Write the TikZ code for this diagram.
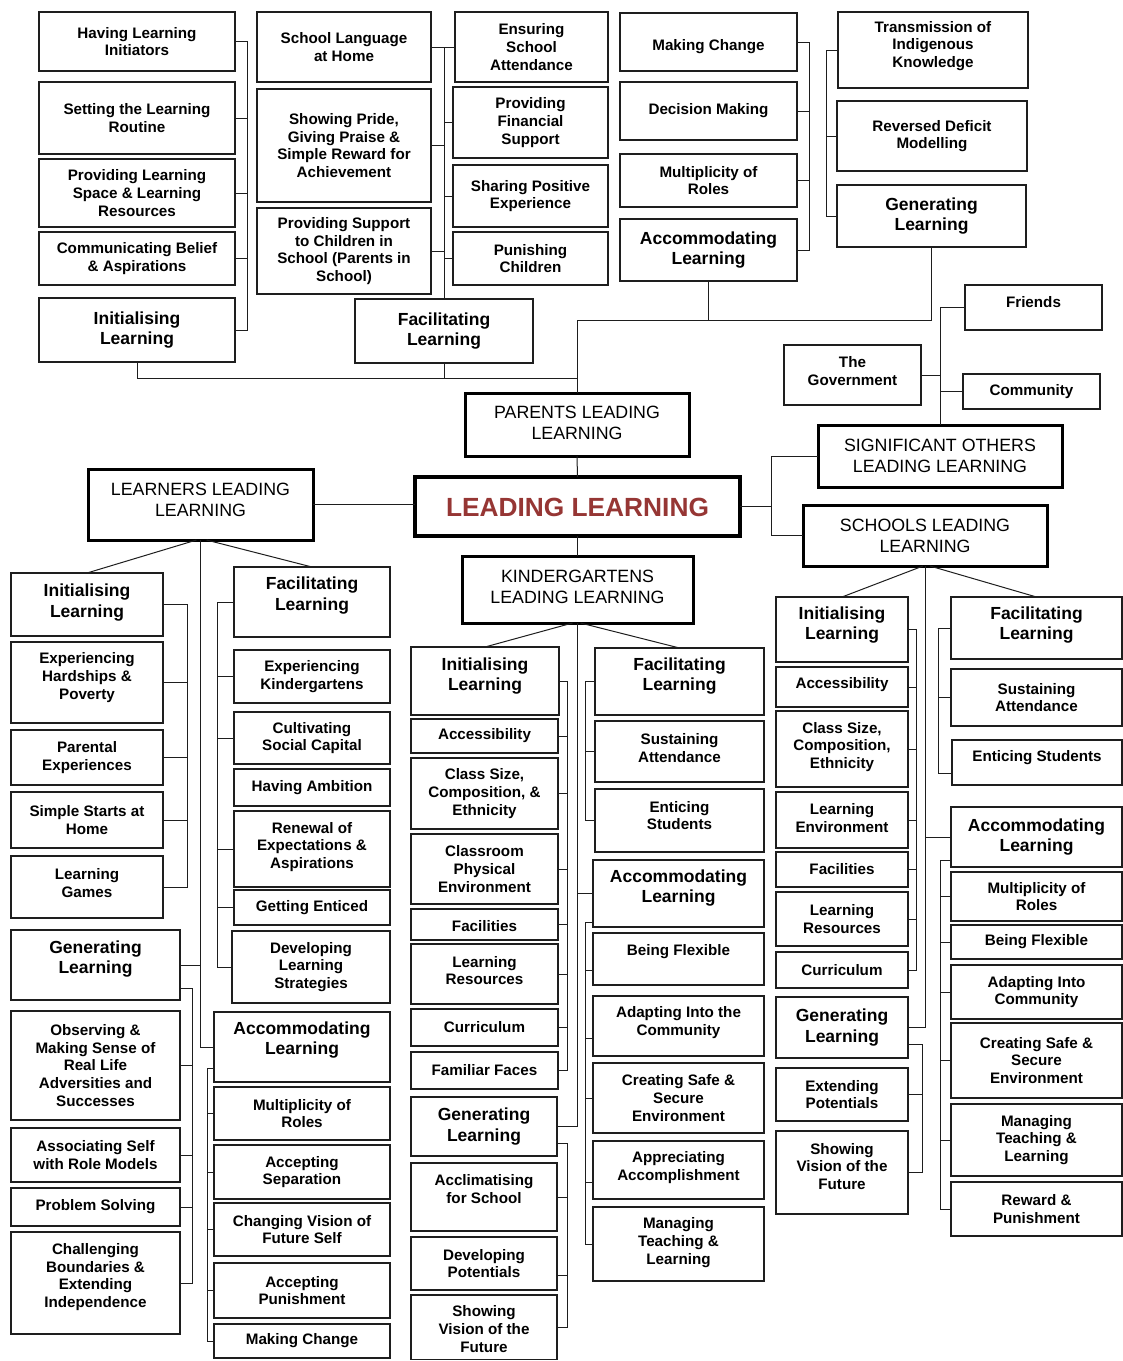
\documentclass[tikz,border=0pt]{standalone}
\usepackage{fontspec}
\setmainfont{Liberation Sans}
\usetikzlibrary{calc}
\definecolor{leadred}{RGB}{150,54,52}
\definecolor{edge}{RGB}{30,30,30}
\tikzset{
  box/.style={draw=edge, line width=1.2pt, inner sep=0pt, outer sep=0pt},
  headbox/.style={draw=black, line width=3pt, inner sep=0pt, outer sep=0pt},
  lbl/.style={align=center, inner sep=0pt, font=\fontsize{15.2}{17.8}\selectfont\bfseries},
  big/.style={font=\fontsize{17.5}{20.8}\selectfont\bfseries},
  head/.style={font=\fontsize{17.8}{20.8}\selectfont},
  conn/.style={draw=edge, line width=1pt},
}
% box with its label: [label options]{name}{x1}{y1}{x2}{y2}{text}
\newcommand\bx[7][]{%
  \node[box, minimum width={#5-#3}, minimum height={#6-#4}] (#2) at ({(#3+#5)/2},{(#4+#6)/2}) {};
  \node[lbl,#1] (#2t) at (#2.center) {#7};}
\newcommand\hx[7][]{%
  \node[headbox, minimum width={#5-#3}, minimum height={#6-#4}] (#2) at ({(#3+#5)/2},{(#4+#6)/2}) {};
  \node[lbl,head,#1] (#2t) at (#2.center) {#7};}
% bus: {bus x coordinate}{first point}{last point}{further points}
\newcommand\bus[4]{%
  \draw[conn] (#2) -- (#2 -| #1) -- (#3 -| #1) -- (#3);
  \foreach \p in {#4} {\draw[conn] (\p) -- (\p -| #1);}}
\begin{document}
\begin{tikzpicture}[x=1pt,y=-1pt]
\fill[white] (0,0) rectangle (1123,1361);
\useasboundingbox (0,0) rectangle (1123,1361);

% ---------- parents ----------
\bx{p1}{39}{12}{235}{71}{Having Learning\\Initiators}
\bx{p2}{39}{82}{235}{154}{Setting the Learning\\Routine}
\bx{p3}{39}{159}{235}{227}{Providing Learning\\Space \& Learning\\Resources}
\bx{p4}{39}{232}{235}{285}{Communicating Belief\\\& Aspirations}
\bx[big]{p5}{39}{298}{235}{362}{Initialising\\Learning}
\bx{q1}{257}{12}{431}{82}{School Language\\at Home}
\bx{q2}{257}{89}{431}{202}{Showing Pride,\\Giving Praise \&\\Simple Reward for\\Achievement}
\bx{q3}{257}{208}{431}{294}{Providing Support\\to Children in\\School (Parents in\\School)}
\bx[big]{pf}{355}{299}{533}{363}{Facilitating\\Learning}
\bx{r1}{455}{12}{608}{82}{Ensuring\\School\\Attendance}
\bx{r2}{453}{87}{608}{158}{Providing\\Financial\\Support}
\bx{r3}{453}{165}{608}{227}{Sharing Positive\\Experience}
\bx{r4}{453}{232}{608}{285}{Punishing\\Children}
\bx[yshift=-5pt]{m1}{620}{13}{797}{71}{Making Change}
\bx{m2}{620}{82}{797}{140}{Decision Making}
\bx{m3}{620}{154}{797}{207}{Multiplicity of\\Roles}
\bx[big]{m4}{620}{219}{797}{281}{Accommodating\\Learning}
\bx[yshift=4pt]{t1}{838}{12}{1028}{88}{Transmission of\\Indigenous\\Knowledge}
\bx{t2}{837}{101}{1027}{171}{Reversed Deficit\\Modelling}
\bx[big]{t3}{837}{185}{1026}{247}{Generating\\Learning}

% ---------- significant others ----------
\bx[yshift=5pt]{fr}{965}{285}{1102}{330}{Friends}
\bx[yshift=4pt]{gov}{784}{345}{921}{405}{The\\Government}
\bx{com}{963}{374}{1100}{409}{Community}

% ---------- headers ----------
\hx[yshift=1.5pt]{par}{465}{393}{689}{456}{PARENTS LEADING\\LEARNING}
\hx{so}{818}{425}{1062}{487}{SIGNIFICANT OTHERS\\LEADING LEARNING}
\hx{sch}{803}{505}{1047}{566}{SCHOOLS LEADING\\LEARNING}
\hx[yshift=5pt]{lrn}{88}{469}{313}{540}{LEARNERS LEADING\\LEARNING}
\hx[yshift=3pt]{kdg}{462}{556}{693}{623}{KINDERGARTENS\\LEADING LEARNING}
\node[headbox, line width=4.5pt, minimum width=325, minimum height=59] (ll) at (577.5,506.5) {};
\node[inner sep=0pt, font=\fontsize{26.3}{30}\selectfont\bfseries, text=leadred] (llt) at (577.5,507) {LEADING LEARNING};

% ---------- learners ----------
\bx[big,yshift=2pt]{li}{11}{573}{163}{636}{Initialising\\Learning}
\bx[yshift=5pt]{lhp}{11}{642}{163}{723}{Experiencing\\Hardships \&\\Poverty}
\bx{lpe}{11}{730}{163}{785}{Parental\\Experiences}
\bx{lss}{11}{792}{163}{848}{Simple Starts at\\Home}
\bx[yshift=4pt]{llg}{11}{856}{163}{918}{Learning\\Games}
\bx[big,yshift=6.5pt]{lf}{234}{567}{390}{637}{Facilitating\\Learning}
\bx{lek}{234}{650}{390}{703}{Experiencing\\Kindergartens}
\bx{lcs}{234}{712}{390}{764}{Cultivating\\Social Capital}
\bx{lha}{234}{769}{390}{806}{Having Ambition}
\bx[yshift=2pt]{lre}{234}{811}{390}{887}{Renewal of\\Expectations \&\\Aspirations}
\bx{lge}{234}{890}{390}{925}{Getting Enticed}
\bx{lds}{232}{931}{390}{1003}{Developing\\Learning\\Strategies}
\bx[big,yshift=6pt]{lgn}{11}{930}{180}{1000}{Generating\\Learning}
\bx{los}{11}{1011}{180}{1120}{Observing \&\\Making Sense of\\Real Life\\Adversities and\\Successes}
\bx{las}{11}{1128}{180}{1182}{Associating Self\\with Role Models}
\bx{lps}{11}{1188}{180}{1226}{Problem Solving}
\bx[yshift=6pt]{lcb}{11}{1232}{180}{1334}{Challenging\\Boundaries \&\\Extending\\Independence}
\bx[big,yshift=7pt]{la}{214}{1012}{390}{1082}{Accommodating\\Learning}
\bx{lmr}{214}{1087}{390}{1140}{Multiplicity of\\Roles}
\bx{lse}{214}{1145}{390}{1199}{Accepting\\Separation}
\bx{lcv}{214}{1203}{390}{1256}{Changing Vision of\\Future Self}
\bx{lap}{214}{1263}{390}{1318}{Accepting\\Punishment}
\bx{lmc}{214}{1324}{390}{1358}{Making Change}

% ---------- kindergartens ----------
\bx[big,yshift=5pt]{ki}{411}{647}{559}{715}{Initialising\\Learning}
\bx{kas}{411}{719}{558}{753}{Accessibility}
\bx{kcs}{411}{758}{558}{829}{Class Size,\\Composition, \&\\Ethnicity}
\bx{kcp}{411}{834}{558}{904}{Classroom\\Physical\\Environment}
\bx[yshift=-2pt]{kfa}{411}{909}{558}{940}{Facilities}
\bx[yshift=3.5pt]{klr}{411}{944}{558}{1004}{Learning\\Resources}
\bx{kcu}{411}{1009}{558}{1046}{Curriculum}
\bx{kff}{411}{1052}{558}{1089}{Familiar Faces}
\bx[big]{kgn}{411}{1097}{557}{1156}{Generating\\Learning}
\bx[yshift=8pt]{kac}{411}{1163}{557}{1231}{Acclimatising\\for School}
\bx{kdp}{411}{1237}{557}{1290}{Developing\\Potentials}
\bx[yshift=-2pt]{ksv}{411}{1295}{557}{1359.5}{Showing\\Vision of the\\Future}
\bx[big,yshift=5.5pt]{kf}{595}{648}{764}{715}{Facilitating\\Learning}
\bx[yshift=3.5pt]{ksu}{595}{721}{764}{782}{Sustaining\\Attendance}
\bx[yshift=5pt]{ken}{595}{789}{764}{852}{Enticing\\Students}
\bx[big,yshift=5.5pt]{ka}{593}{860}{764}{927}{Accommodating\\Learning}
\bx[yshift=7pt]{kbf}{593}{933}{764}{985}{Being Flexible}
\bx[yshift=3.5pt]{kad}{593}{996}{764}{1056}{Adapting Into the\\Community}
\bx{ksa}{593}{1063}{764}{1133}{Creating Safe \&\\Secure\\Environment}
\bx[yshift=2.5pt]{kap}{593}{1141}{764}{1199}{Appreciating\\Accomplishment}
\bx[yshift=1.5pt]{kmt}{593}{1207}{764}{1281}{Managing\\Teaching \&\\Learning}

% ---------- schools ----------
\bx[big,yshift=4.5pt]{si}{776}{597}{908}{662}{Initialising\\Learning}
\bx[yshift=2pt]{sas}{776}{667}{908}{707}{Accessibility}
\bx[yshift=2pt]{scs}{776}{711}{908}{787}{Class Size,\\Composition,\\Ethnicity}
\bx[yshift=2pt]{sle}{776}{792}{908}{848}{Learning\\Environment}
\bx{sfa}{776}{852}{908}{887}{Facilities}
\bx{slr}{776}{892}{908}{946}{Learning\\Resources}
\bx{scu}{776}{952}{908}{988}{Curriculum}
\bx[big]{sgn}{776}{997}{908}{1058}{Generating\\Learning}
\bx{sep}{776}{1068}{908}{1121}{Extending\\Potentials}
\bx[yshift=6pt]{ssv}{776}{1131}{908}{1214}{Showing\\Vision of the\\Future}
\bx[big,yshift=3pt]{sf}{951}{597}{1122}{659}{Facilitating\\Learning}
\bx{ssu}{951}{669}{1122}{726}{Sustaining\\Attendance}
\bx[yshift=4.5pt]{sen}{952}{740}{1122}{785}{Enticing Students}
\bx[big]{sa}{951}{807}{1122}{867}{Accommodating\\Learning}
\bx{smr}{951}{872}{1122}{921}{Multiplicity of\\Roles}
\bx{sbf}{951}{925}{1122}{959}{Being Flexible}
\bx{sad}{951}{965}{1122}{1019}{Adapting Into\\Community}
\bx{ssa}{951}{1023}{1122}{1098}{Creating Safe \&\\Secure\\Environment}
\bx{smt}{951}{1104}{1122}{1176}{Managing\\Teaching \&\\Learning}
\bx{srp}{951}{1182}{1122}{1236}{Reward \&\\Punishment}

% ---------- bus positions and off-centre ticks ----------
\coordinate (bPI) at (247,0);
\coordinate (bPA) at (809,0);
\coordinate (bPG) at (826,0);
\coordinate (rb)  at (771,0);
\coordinate (pj)  at (577,320);
\coordinate (pk)  at (577,378);
\coordinate (bLI) at (187,0);
\coordinate (bLF) at (217,0);
\coordinate (bLG) at (192,0);
\coordinate (bLA) at (207,0);
\coordinate (bKI) at (567,0);
\coordinate (bKF) at (585,0);
\coordinate (bSI) at (916,0);
\coordinate (bSF) at (938,0);
\coordinate (bSA) at (940,0);
\coordinate (bSG) at (922,0);
\coordinate (lgt) at ([yshift=-23pt]lgn.east);
\coordinate (lat) at ([yshift=-21pt]la.west);
\coordinate (kat) at ([yshift=-28.5pt]ka.west);
\coordinate (kbft) at ([yshift=-11pt]kbf.west);
\coordinate (kadt) at ([yshift=-12pt]kad.west);
\coordinate (kapt) at ([yshift=-12pt]kap.west);
\coordinate (kgnt) at ([yshift=-16.5pt]kgn.east);
\coordinate (kdpt) at ([yshift=-11.5pt]kdp.east);
\coordinate (sent) at ([yshift=-10.5pt]sen.west);
\coordinate (sat) at ([yshift=-23pt]sa.west);
\coordinate (sgnt) at ([yshift=-16.5pt]sgn.east);

% ---------- parents connectors ----------
\bus{bPI}{p1.east}{p5.east}{p2.east,p3.east,p4.east}
\draw[conn] (q1.east -| pf.north) -- (pf.north);
\foreach \n in {q1,q2,q3} {\draw[conn] (\n.east) -- (\n.east -| pf.north);}
\foreach \n in {r1,r2,r3,r4} {\draw[conn] (\n.west) -- (\n.west -| pf.north);}
\bus{bPA}{m1.east}{m4.east}{m2.east,m3.east}
\bus{bPG}{t1.west}{t3.west}{t2.west}
\draw[conn] (m4.south) |- (pj) -- (par.north);
\draw[conn] (t3.south) |- (pj);
\draw[conn] (p5.south) |- (pk);
\draw[conn] (pf.south) -- (pf.south |- pk);

% ---------- central connectors ----------
\draw[conn] (par.south) -- (ll.north);
\draw[conn] (lrn.east) -- (lrn.east -| ll.west);
\draw[conn] (ll.east) -- (ll.east -| rb);
\draw[conn] (so.west) -- (so.west -| rb) -- (sch.west -| rb) -- (sch.west);
\draw[conn] (ll.south) -- (kdg.north);
\draw[conn] (so.north) -- (so.north |- fr.west) -- (fr.west);
\draw[conn] (gov.east) -- (gov.east -| so.north);
\draw[conn] (com.west) -- (com.west -| so.north);

% ---------- learners connectors ----------
\draw[conn] ([xshift=-4pt]lrn.south) -- (li.north);
\draw[conn] ([xshift=6pt]lrn.south) -- (lf.north);
\draw[conn] (lrn.south) |- (la.west);
\draw[conn] (lgn.east) -- (lgn.east -| lrn.south);
\bus{bLI}{li.east}{llg.east}{lhp.east,lpe.east,lss.east}
\bus{bLF}{lf.west}{lds.west}{lek.west,lcs.west,lre.west,lge.west}
\bus{bLG}{lgt}{lcb.east}{los.east,las.east,lps.east}
\bus{bLA}{lat}{lmc.west}{lmr.west,lse.west,lcv.west,lap.west}

% ---------- kindergartens connectors ----------
\draw[conn] ([xshift=-5pt]kdg.south) -- (ki.north);
\draw[conn] ([xshift=3pt]kdg.south) -- (kf.north);
\draw[conn] (kdg.south) |- (kgn.east);
\draw[conn] (ka.west) -- (ka.west -| kdg.south);
\bus{bKI}{ki.east}{kff.east}{kas.east,kcs.east,kcp.east,kfa.east,klr.east,kcu.east}
\bus{bKF}{kf.west}{ken.west}{ksu.west}
\bus{bKF}{kat}{kmt.west}{kbft,kadt,ksa.west,kapt}
\bus{bKI}{kgnt}{ksv.east}{kac.east,kdpt}

% ---------- schools connectors ----------
\draw[conn] ([xshift=-2pt]sch.south) -- (si.north);
\draw[conn] ([xshift=5pt]sch.south) -- (sf.north);
\draw[conn] (sch.south) |- (sgn.east);
\draw[conn] (sa.west) -- (sa.west -| sch.south);
\bus{bSI}{si.east}{scu.east}{sas.east,scs.east,sle.east,sfa.east,slr.east}
\bus{bSF}{sf.west}{sent}{ssu.west}
\bus{bSA}{sat}{srp.west}{smr.west,sbf.west,sad.west,ssa.west,smt.west}
\bus{bSG}{sgnt}{ssv.east}{sep.east}
\end{tikzpicture}
\end{document}
